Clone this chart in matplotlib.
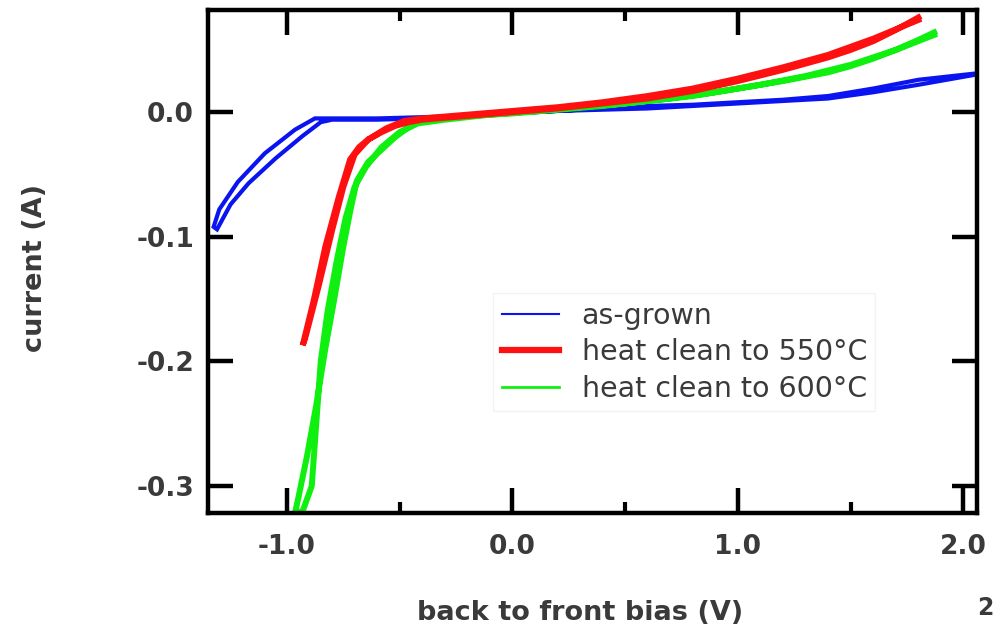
import matplotlib
matplotlib.use("Agg")
import matplotlib.pyplot as plt
from matplotlib.lines import Line2D

# ---- data (sweep down, then back up) ----
blue_x = [2.05, 1.8, 1.6, 1.4, 1.2, 1.0, 0.8, 0.6, 0.4, 0.2, 0.0, -0.2, -0.4, -0.6, -0.8,
          -0.876, -0.964, -1.098, -1.218, -1.30, -1.325,
          -1.31, -1.25, -1.17, -1.05, -0.93, -0.85, -0.80, -0.6, -0.4, -0.2, 0.0,
          0.2, 0.4, 0.6, 0.8, 1.0, 1.2, 1.4, 1.6, 1.8, 2.05]
blue_y = [0.031, 0.026, 0.019, 0.013, 0.010, 0.008, 0.006, 0.005, 0.003, 0.001, -0.001, -0.003, -0.004, -0.005, -0.005,
          -0.005, -0.014, -0.033, -0.056, -0.078, -0.092,
          -0.094, -0.074, -0.057, -0.037, -0.019, -0.008, -0.006, -0.006, -0.005, -0.003, -0.001,
          0.001, 0.002, 0.003, 0.005, 0.007, 0.009, 0.011, 0.016, 0.022, 0.030]

red_x = [1.80, 1.7, 1.6, 1.5, 1.4, 1.2, 1.0, 0.8, 0.6, 0.4, 0.2, 0.0, -0.2, -0.4, -0.46, -0.52, -0.58,
         -0.64, -0.68, -0.72, -0.77, -0.83, -0.88, -0.93,
         -0.92, -0.86, -0.80, -0.75, -0.70, -0.64, -0.56, -0.48, -0.4, -0.2, 0.0, 0.2, 0.4, 0.6,
         0.8, 1.0, 1.2, 1.4, 1.6, 1.8]
red_y = [0.076, 0.066, 0.057, 0.050, 0.044, 0.034, 0.025, 0.017, 0.011, 0.007, 0.003, 0.000, -0.003, -0.006, -0.008, -0.011, -0.016,
         -0.022, -0.028, -0.038, -0.068, -0.108, -0.150, -0.187,
         -0.182, -0.140, -0.095, -0.060, -0.034, -0.022, -0.013, -0.007, -0.005, -0.002, 0.001, 0.004, 0.008, 0.013,
         0.019, 0.027, 0.036, 0.046, 0.059, 0.074]

green_x = [1.87, 1.8, 1.7, 1.6, 1.5, 1.4, 1.2, 1.0, 0.8, 0.6, 0.4, 0.2, 0.0, -0.2, -0.40, -0.46, -0.52,
           -0.58, -0.64, -0.69, -0.72, -0.75, -0.79, -0.83, -0.87, -0.91, -0.95, -0.965,
           -0.93, -0.89, -0.87, -0.85, -0.82, -0.78, -0.74, -0.70, -0.65, -0.58, -0.50, -0.42, -0.3,
           -0.1, 0.1, 0.3, 0.5, 0.7, 0.9, 1.1, 1.3, 1.5, 1.7, 1.87]
green_y = [0.064, 0.058, 0.050, 0.043, 0.037, 0.032, 0.025, 0.019, 0.013, 0.009, 0.005, 0.002, -0.001, -0.003, -0.006, -0.012, -0.020,
           -0.030, -0.040, -0.055, -0.080, -0.108, -0.150, -0.190, -0.235, -0.275, -0.310, -0.322,
           -0.320, -0.300, -0.250, -0.200, -0.160, -0.120, -0.085, -0.060, -0.044, -0.028, -0.016, -0.009, -0.006,
           -0.002, 0.001, 0.004, 0.007, 0.011, 0.016, 0.022, 0.029, 0.038, 0.050, 0.062]

x_ticks = [-1.0, 0.0, 1.0, 2.0]
x_tick_labels = ["-1.0", "0.0", "1.0", "2.0"]
y_ticks = [0.0, -0.1, -0.2, -0.3]
y_tick_labels = ["0.0", "-0.1", "-0.2", "-0.3"]
labels = ["as-grown", "heat clean to 550°C", "heat clean to 600°C"]
colors = ["#0a14f0", "#ff1010", "#10f010"]

fig = plt.figure(figsize=(9.94, 6.38), dpi=100)
ax = fig.add_axes([208/994, 1 - 513/638, (977-208)/994, (513-10)/638])

ax.plot(blue_x, blue_y, color=colors[0], lw=3.0, solid_joinstyle="miter")
ax.plot(green_x, green_y, color=colors[2], lw=4.3, solid_joinstyle="miter")
ax.plot(red_x, red_y, color=colors[1], lw=4.3, solid_joinstyle="miter")

ax.set_xlim(-1.35, 2.06)
ax.set_ylim(-0.3216, 0.082)

ax.set_xticks(x_ticks)
ax.set_xticklabels(x_tick_labels)
ax.set_xticks([-0.5, 0.5, 1.5], minor=True)
ax.set_yticks(y_ticks)
ax.set_yticklabels(y_tick_labels)

for s in ax.spines.values():
    s.set_linewidth(3.2)

ax.tick_params(which="major", direction="in", length=18, width=3.2, top=True, right=True,
               labelsize=19, colors="black", labelcolor="#3a3a3a")
ax.tick_params(axis="x", which="major", pad=15)
ax.tick_params(axis="y", which="major", pad=10)
ax.tick_params(which="minor", direction="in", length=8, width=3, top=True, right=False, bottom=True)
for t in ax.get_xticklabels() + ax.get_yticklabels():
    t.set_fontweight("bold")

fig.text(35/994, 1 - 268/638, "current (A)", ha="center", va="center", rotation=90,
         fontsize=19.5, fontweight="bold", color="#3a3a3a")
fig.text(580/994, 1 - 613/638, "back to front bias (V)", ha="center", va="center",
         fontsize=19.5, fontweight="bold", color="#3a3a3a")
fig.text(985/994, 1 - 608/638, "2", ha="center", va="center", fontsize=17,
         fontweight="bold", color="#3a3a3a")

handles = [Line2D([], [], color=colors[0], lw=1.5),
           Line2D([], [], color=colors[1], lw=4.5),
           Line2D([], [], color=colors[2], lw=2.0)]
leg = ax.legend(handles, labels, loc="upper left", bbox_to_anchor=(0.371, 0.437),
                fontsize=20.5, frameon=True, fancybox=False, handlelength=2.0,
                labelspacing=0.3, borderpad=0.3, handletextpad=0.8, borderaxespad=0)
leg.get_frame().set_edgecolor("#f0f0f0")
leg.get_frame().set_linewidth(1.0)
for t in leg.get_texts():
    t.set_color("#3a3a3a")

fig.savefig("out.png", dpi=100)
